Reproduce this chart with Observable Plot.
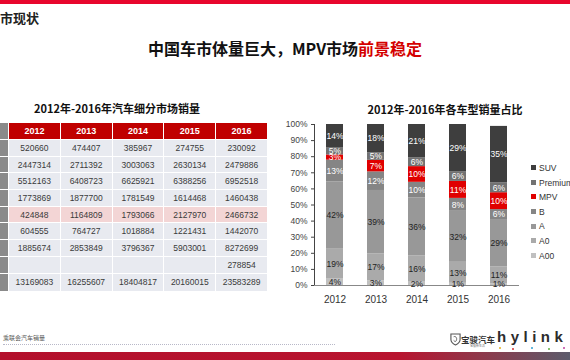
<!DOCTYPE html>
<html><head><meta charset="utf-8">
<script src="https://cdn.jsdelivr.net/npm/d3@7"></script>
<script src="https://cdn.jsdelivr.net/npm/@observablehq/plot@0.6"></script>
<style>
html,body{margin:0;padding:0;background:#fff;}
#slide{position:relative;width:570px;height:360px;overflow:hidden;background:#fff;font-family:"Noto Sans CJK SC","Noto Sans",sans-serif;}
.abs{position:absolute;}
#tbl{position:absolute;left:-46px;top:122px;border-collapse:collapse;table-layout:fixed;font-family:"Liberation Sans",Arial,sans-serif;}
#tbl td,#tbl th{border:1px solid #fff;padding:0;text-align:center;overflow:hidden;white-space:nowrap;}
#tbl th{background:#c00000;color:#fff;font-size:9px;font-weight:bold;height:16px;}
#tbl td{background:#e8eaf0;color:#3a3a3a;font-size:8.5px;height:15.7px;}
#tbl td.lab,#tbl th.lab{background:#8a8a8a;color:#fff;}
#tbl tr.mpv td{background:#f3d5d5;}
#tbl tr.mpv td.lab{background:#8a8a8a;}
#chart{position:absolute;left:280px;top:115px;}
#chart g[aria-label^="x-axis"] text{font-size:10px !important;fill:#333;}
#legend{position:absolute;left:531px;top:161px;font-family:"Liberation Sans",Arial,sans-serif;font-size:8.5px;color:#333;}
#legend div{height:14.6px;line-height:14.6px;white-space:nowrap;}
#legend span.sw{display:inline-block;width:5px;height:5px;margin-right:3px;vertical-align:middle;position:relative;top:-1px;}
.dot{position:absolute;width:2px;height:2px;border-radius:1px;}
</style></head>
<body>
<div id="slide">
  <div class="abs" style="left:0;top:0;width:570px;height:4px;background:#e8062d;"></div>
  <div class="abs" style="left:0;top:11px;font-size:13px;line-height:13px;font-weight:bold;color:#222;">市现状</div>
  <div class="abs" style="left:0;top:40px;width:570px;text-align:center;font-size:16px;line-height:16px;font-weight:bold;color:#111;">中国车市体量巨大，MPV市场<span style="color:#d40000;">前景稳定</span></div>
  <div class="abs" style="left:17px;top:102px;width:200px;text-align:center;font-size:11px;line-height:12px;font-weight:bold;color:#111;">2012年-2016年汽车细分市场销量</div>
  <div class="abs" style="left:345px;top:103px;width:200px;text-align:center;font-size:11px;line-height:12px;font-weight:bold;color:#111;">2012年-2016年各车型销量占比</div>
  <table id="tbl"></table>
  <div id="chart"></div>
  <div id="legend"></div>
  <div class="abs" style="left:3px;top:334px;font-size:6px;line-height:7px;color:#555;">乘联会汽车销量</div>
  <div class="abs" style="left:3px;top:344px;width:332px;height:0;border-top:1.5px dotted #b8b8c8;"></div>
  <div class="abs" style="left:0;top:352px;width:570px;height:8px;background:linear-gradient(90deg,#b3102c 0%,#b8142f 70%,#8c3a4c 85%,#5c5c6c 100%);"></div>
  <svg class="abs" style="left:450px;top:333px;" width="11" height="13" viewBox="0 0 12 14"><path d="M1 1 H11 V7 C11 10 8 12 6 13 C4 12 1 10 1 7 Z" fill="none" stroke="#555" stroke-width="1.2"/><path d="M4 4 C6 3 8 5 7 8 C6 10 5 9 4 8" fill="none" stroke="#555" stroke-width="1"/></svg>
  <div class="abs" style="left:461px;top:335px;font-size:8.5px;line-height:9px;font-weight:bold;color:#333;">宝骏汽车</div>
  <div class="abs" style="left:470px;top:345px;font-size:3px;line-height:3px;color:#777;">宝骏新生活</div>
  <div class="abs" style="left:497px;top:329px;font-size:15px;line-height:16px;font-weight:bold;font-family:'Liberation Sans',Arial,sans-serif;color:#2c2c2c;letter-spacing:4.5px;">hylink</div>
  <div class="dot" style="left:499px;top:347px;background:#e0b020;"></div>
  <div class="dot" style="left:512px;top:348px;background:#d03030;"></div>
  <div class="dot" style="left:531px;top:347px;background:#30a0d0;"></div>
  <div class="dot" style="left:548px;top:348px;background:#60b040;"></div>
  <div class="dot" style="left:563px;top:347px;background:#c040a0;"></div>
</div>
<script>
// ---- data ----
const years = ["2012", "2013", "2014", "2015", "2016"];
const A00 = [520660, 474407, 385967, 274755, 230092];
const A0 = [2447314, 2711392, 3003063, 2630134, 2479886];
const A = [5512163, 6408723, 6625921, 6388256, 6952518];
const B = [1773869, 1877700, 1781549, 1614468, 1460438];
const MPV = [424848, 1164809, 1793066, 2127970, 2466732];
const Premium = [604555, 764727, 1018884, 1221431, 1442070];
const SUV = [1885674, 2853849, 3796367, 5903001, 8272699];
const Other = [null, null, null, null, 278854];
const Total = [13169083, 16255607, 18404817, 20160015, 23583289];
const tableRowNames = ["A00", "A0", "A", "B", "MPV", "Premium", "SUV", "Other", "Total"];
const tableRowValues = [A00, A0, A, B, MPV, Premium, SUV, Other, Total];
const chartSegments = ["A00", "A0", "A", "B", "MPV", "Premium", "SUV"];
const chartSeries = [A00, A0, A, B, MPV, Premium, SUV];
const segmentColors = ["#c0c0c0", "#aaaaaa", "#989898", "#858585", "#e00000", "#727272", "#3e3e3e"];
const whiteLabelSegments = ["B", "MPV", "Premium", "SUV"];

// ---- table (row-label column is cropped off the slide's left edge) ----
const tbl = document.getElementById("tbl");
const cg = document.createElement("colgroup");
[54, 51.8, 51.8, 51.8, 51.8, 51.8].forEach(w => { const c = document.createElement("col"); c.style.width = w + "px"; cg.appendChild(c); });
tbl.appendChild(cg);
const hr = document.createElement("tr");
const h0 = document.createElement("th"); h0.className = "lab"; hr.appendChild(h0);
years.forEach(y => { const th = document.createElement("th"); th.textContent = y; hr.appendChild(th); });
tbl.appendChild(hr);
tableRowNames.forEach((name, i) => {
  const tr = document.createElement("tr");
  if (name === "MPV") tr.className = "mpv";
  const l = document.createElement("td"); l.className = "lab"; l.title = name; tr.appendChild(l);
  tableRowValues[i].forEach(v => { const td = document.createElement("td"); td.textContent = v == null ? "" : String(v); tr.appendChild(td); });
  if (name === "Total") tr.querySelectorAll("td").forEach(td => td.style.height = "17px");
  tbl.appendChild(tr);
});

// ---- chart ----
const chartData = chartSegments.flatMap((s, i) =>
  years.map((y, j) => ({year: y, seg: s, share: chartSeries[i][j] / Total[j] * 100})));
const label = d => Math.round(d.share) + "%";

const chart = Plot.plot({
  width: 250, height: 195,
  marginTop: 9, marginBottom: 25, marginLeft: 34, marginRight: 11,
  x: {domain: years, paddingInner: 0.585, paddingOuter: 0.2925, label: null, tickSize: 0, tickPadding: 10},
  y: {domain: [0, 100], ticks: d3.range(0, 101, 10), tickFormat: d => d + "%", label: null, tickSize: 3, tickPadding: 4, line: true},
  color: {domain: chartSegments, range: segmentColors},
  style: {fontFamily: "Liberation Sans, Arial, sans-serif", fontSize: "8.5px", color: "#444", background: "transparent"},
  marks: [
    Plot.barY(chartData, Plot.stackY({x: "year", y: "share", fill: "seg"})),
    Plot.ruleY([0], {stroke: "#888"}),
    Plot.text(chartData, Plot.stackY({x: "year", y: "share", z: "seg",
      text: d => whiteLabelSegments.includes(d.seg) ? label(d) : "", fill: "white", fontSize: 8.5})),
    Plot.text(chartData, Plot.stackY({x: "year", y: "share", z: "seg",
      text: d => whiteLabelSegments.includes(d.seg) ? "" : label(d), fill: "#222", fontSize: 8.5}))
  ]
});
document.getElementById("chart").appendChild(chart);

// ---- legend ----
const lg = document.getElementById("legend");
chartSegments.slice().reverse().forEach(s => {
  const d = document.createElement("div");
  const sw = document.createElement("span"); sw.className = "sw";
  sw.style.background = segmentColors[chartSegments.indexOf(s)];
  d.appendChild(sw); d.appendChild(document.createTextNode(s));
  lg.appendChild(d);
});
</script>
</body></html>
